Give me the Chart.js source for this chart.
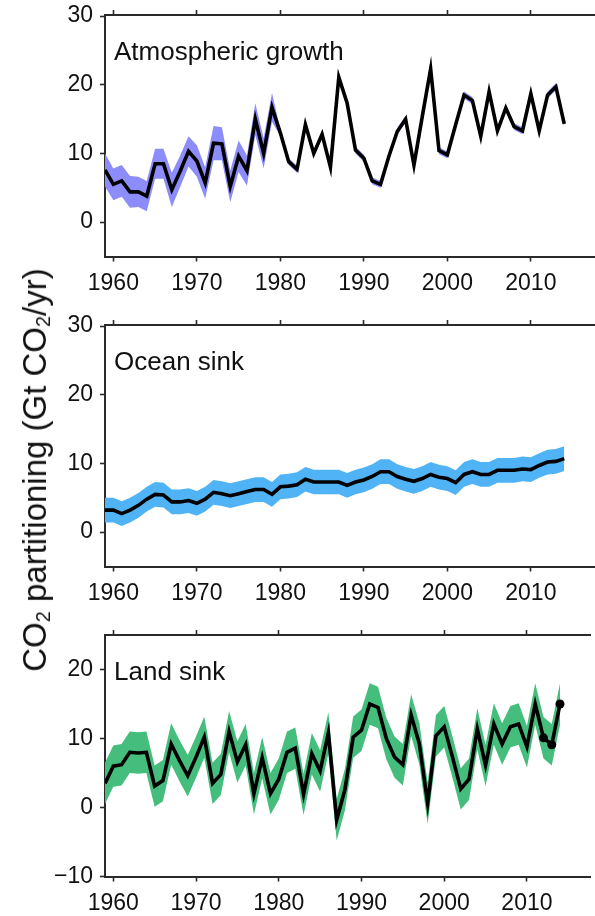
<!DOCTYPE html>
<html><head><meta charset="utf-8">
<script src="https://cdn.jsdelivr.net/npm/chart.js@4/dist/chart.umd.min.js"></script>
<style>
html,body{margin:0;padding:0;background:#fff;overflow:hidden;}
#wrap{position:relative;width:595px;height:916px;}
canvas{position:absolute;left:0;}
#ytitle{position:absolute;left:35px;top:470px;transform:translate(-50%,-50%) rotate(-90deg);white-space:nowrap;font-family:"Liberation Sans",Arial,Helvetica,sans-serif;font-size:33px;color:#111;}
#ytitle sub{font-size:0.6em;vertical-align:-0.22em;line-height:0;}
</style></head>
<body><div id="wrap">
<canvas id="c1" style="top:0px"></canvas>
<canvas id="c2" style="top:310px"></canvas>
<canvas id="c3" style="top:620px"></canvas>
<div id="ytitle">CO<sub>2</sub> partitioning (Gt CO<sub>2</sub>/yr)</div>
</div>
<script>
const years = [1959,1960,1961,1962,1963,1964,1965,1966,1967,1968,
  1969,1970,1971,1972,1973,1974,1975,1976,1977,1978,
  1979,1980,1981,1982,1983,1984,1985,1986,1987,1988,
  1989,1990,1991,1992,1993,1994,1995,1996,1997,1998,
  1999,2000,2001,2002,2003,2004,2005,2006,2007,2008,
  2009,2010,2011,2012,2013,2014];

const atmGrowth = [7.6,5.5,6.0,4.4,4.4,3.8,8.5,8.5,4.7,7.4,
  10.3,8.9,5.7,11.5,11.4,5.2,9.6,7.5,15.0,10.0,
  16.7,13.0,8.8,7.7,14.2,10.0,12.8,8.0,21.1,17.3,
  10.5,9.3,6.0,5.5,9.6,13.2,15.0,8.3,15.4,22.3,
  10.4,9.8,14.2,18.5,17.7,12.5,19.0,13.3,16.6,13.9,
  13.3,18.7,13.3,18.5,19.7,14.3];
const atmUnc = [2.4,2.3,2.3,2.3,2.2,2.2,2.2,2.2,2.5,2.3,
  2.2,2.3,2.3,2.5,2.4,2.3,2.3,2.2,2.3,2.2,
  2.1,0.5,0.5,0.5,0.5,0.5,0.5,0.5,0.5,0.5,
  0.5,0.5,0.5,0.5,0.5,0.5,0.5,0.5,0.5,0.5,
  0.5,0.5,0.5,0.5,0.5,0.5,0.5,0.5,0.5,0.5,
  0.5,0.5,0.5,0.5,0.5,0.5];

const oceanSink = [3.2,3.2,2.7,3.2,3.9,4.8,5.5,5.4,4.4,4.4,
  4.6,4.2,4.8,5.8,5.6,5.3,5.6,5.9,6.2,6.2,
  5.5,6.6,6.7,6.9,7.7,7.3,7.3,7.3,7.3,6.8,
  7.3,7.6,8.1,8.8,8.8,8.1,7.7,7.4,7.8,8.4,
  8.0,7.8,7.2,8.4,8.8,8.4,8.4,9.0,9.0,9.0,
  9.2,9.1,9.7,10.2,10.3,10.7];
const oceanUnc = [1.8,1.8,1.8,1.8,1.8,1.8,1.8,1.8,1.8,1.8,
  1.8,1.8,1.8,1.8,1.8,1.8,1.8,1.8,1.8,1.8,
  1.8,1.8,1.8,1.8,1.8,1.8,1.8,1.8,1.8,1.8,
  1.8,1.8,1.8,1.8,1.8,1.8,1.8,1.8,1.8,1.8,
  1.8,1.8,1.8,1.8,1.8,1.8,1.8,1.8,1.8,1.8,
  1.8,1.8,1.8,1.8,1.8,1.8];

const landSink = [3.5,6.0,6.2,8.0,7.9,8.0,3.1,3.9,9.2,6.8,
  4.6,7.3,10.2,3.5,4.8,11.0,6.6,9.1,2.0,7.2,
  2.0,4.1,8.0,8.6,1.9,7.8,5.3,10.8,-1.8,2.6,
  10.2,11.2,15.0,14.5,10.0,7.3,6.2,13.4,9.2,0.6,
  10.4,11.7,7.3,2.7,4.1,11.4,6.1,12.1,9.2,11.7,
  12.1,8.8,15.0,10.1,9.1,15.0];
const landUnc = [3.0,3.0,3.0,3.0,3.0,3.0,3.0,3.0,3.0,3.0,
  3.0,3.0,3.0,3.0,3.0,3.0,3.0,3.0,3.0,3.0,
  3.0,3.0,3.0,3.0,3.0,3.0,3.0,3.0,3.0,3.0,
  3.0,3.0,3.0,3.0,3.0,3.0,3.0,3.0,3.0,3.0,
  3.0,3.0,3.0,3.0,3.0,3.0,3.0,3.0,3.0,3.0,
  3.0,3.0,3.0,3.0,3.0,3.0];
const landDotYears = [2012, 2013, 2014];

const xTickYears = [1960, 1970, 1980, 1990, 2000, 2010];
const yTicksUpper = [0, 10, 20, 30];
const yTicksLand = [-10, 0, 10, 20];

const FONT = '"Liberation Sans", Arial, Helvetica, sans-serif';
const AXIS_COLOR = '#2a2a2a';
const PLOT_TOP = 15, PLOT_H = 241.5, Y_W = 105;

const titlePlugin = {
  id: 'panelTitle',
  afterDraw(chart, args, opts) {
    const ctx = chart.ctx, a = chart.chartArea;
    ctx.save();
    ctx.font = '26px ' + FONT;
    ctx.fillStyle = '#111';
    ctx.textAlign = 'left';
    ctx.textBaseline = 'alphabetic';
    ctx.fillText(opts.text, a.left + 9, a.top + 45);
    ctx.restore();
  }
};

function makePanel(id, H, title, vals, unc, color, yMin, yMax, yTicks, dotYears) {
  const cv = document.getElementById(id);
  cv.width = 595; cv.height = H;
  cv.style.width = '595px'; cv.style.height = H + 'px';
  const upper = years.map((y, i) => ({x: y, y: vals[i] + unc[i]}));
  const lower = years.map((y, i) => ({x: y, y: vals[i] - unc[i]}));
  const center = years.map((y, i) => ({x: y, y: vals[i]}));
  const xBase = {
    type: 'linear', min: 1959, max: 1959 + 490 / 8.35,
    afterBuildTicks: s => { s.ticks = xTickYears.map(v => ({value: v})); },
    grid: {display: true, drawOnChartArea: false, drawTicks: true, tickLength: 5, tickWidth: 1.6, tickColor: AXIS_COLOR},
    border: {display: true, color: AXIS_COLOR, width: 2}
  };
  return new Chart(cv, {
    type: 'line',
    data: {
      datasets: [
        {data: upper, order: 2, borderWidth: 0, pointRadius: 0, fill: '+1', backgroundColor: color, borderColor: color, tension: 0},
        {data: lower, order: 3, borderWidth: 0, pointRadius: 0, fill: false, backgroundColor: color, borderColor: color, tension: 0},
        {data: center, order: 0, borderWidth: 3.6, borderColor: '#000', backgroundColor: '#000', fill: false, tension: 0,
         borderJoinStyle: 'miter',
         pointRadius: c => (dotYears && dotYears.includes(years[c.dataIndex])) ? 4.5 : 0,
         pointBackgroundColor: '#000', pointBorderWidth: 0}
      ]
    },
    options: {
      responsive: false, animation: false, events: [],
      layout: {padding: 0},
      plugins: {legend: {display: false}, tooltip: {enabled: false}, panelTitle: {text: title}},
      scales: {
        x: Object.assign({}, xBase, {
          position: 'bottom',
          ticks: {display: true, padding: 8, color: '#111', font: {family: FONT, size: 23}, maxRotation: 0, autoSkip: false,
                  callback: v => String(v)},
          afterFit: s => { s.height = H - PLOT_TOP - PLOT_H; s.paddingLeft = 0; s.paddingRight = 0; }
        }),
        x2: Object.assign({}, xBase, {
          position: 'top',
          ticks: {display: false},
          afterFit: s => { s.height = PLOT_TOP; s.paddingLeft = 0; s.paddingRight = 0; }
        }),
        y: {
          type: 'linear', min: yMin, max: yMax, position: 'left',
          afterBuildTicks: s => { s.ticks = yTicks.map(v => ({value: v})); },
          ticks: {padding: 7, color: '#111', font: {family: FONT, size: 23},
                  callback: v => v < 0 ? '\u2212' + Math.abs(v) : String(v)},
          grid: {display: true, drawOnChartArea: false, drawTicks: true, tickLength: 5, tickWidth: 1.6, tickColor: AXIS_COLOR},
          border: {display: true, color: AXIS_COLOR, width: 2},
          afterFit: s => { s.width = Y_W; s.paddingTop = 0; s.paddingBottom = 0; }
        }
      }
    },
    plugins: [titlePlugin]
  });
}

makePanel('c1', 305, 'Atmospheric growth', atmGrowth, atmUnc, '#8c8cfa', -5, 30.15, yTicksUpper, null);
makePanel('c2', 305, 'Ocean sink', oceanSink, oceanUnc, '#4fb3f5', -5, 30.15, yTicksUpper, null);
makePanel('c3', 296, 'Land sink', landSink, landUnc, '#45be7d', -10, 25, yTicksLand, landDotYears);
</script>
</body></html>
